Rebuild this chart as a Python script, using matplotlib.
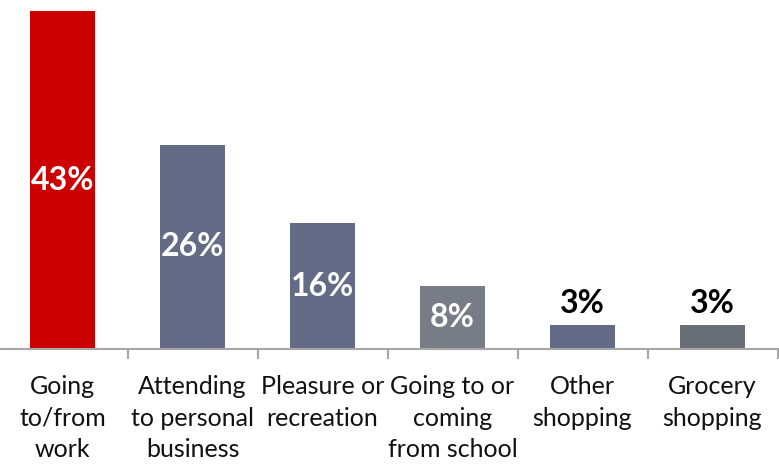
import matplotlib.pyplot as plt

categories = ["Going\nto/from\nwork", "Attending\nto personal\nbusiness", "Pleasure or\nrecreation",
              "Going to or\ncoming\nfrom school", "Other\nshopping", "Grocery\nshopping"]
shares = [43, 26, 16, 8, 3, 3]
bar_colors = ["#CC0000", "#636B86", "#636B86", "#777C87", "#636B86", "#696D75"]

plt.rcParams['font.family'] = ['Lato', 'DejaVu Sans']

fig = plt.figure(figsize=(7.79, 4.69), dpi=100)
ax = fig.add_axes([-2.5 / 779, 120 / 469, 780 / 779, 349 / 469])

x = range(len(shares))
bars = ax.bar(x, shares, width=0.5, color=bar_colors)

ax.set_xlim(-0.5, 5.5)
ax.set_ylim(0, 44.4)

# values: white inside the taller bars, black above the short ones
for i, v in enumerate(shares):
    if v >= 5:
        ax.text(i, v / 2, f"{v}%", ha='center', va='center', color='white',
                fontsize=23, fontweight='bold')
    else:
        ax.text(i, v + 1.0, f"{v}%", ha='center', va='bottom', color='black',
                fontsize=23, fontweight='bold')

for side in ['top', 'right', 'left']:
    ax.spines[side].set_visible(False)
ax.spines['bottom'].set_color('#A6A6A6')
ax.spines['bottom'].set_linewidth(1.5)
ax.set_yticks([])

ax.set_xticks(list(x))
ax.set_xticklabels(categories, fontsize=18, color='#111111', linespacing=1.45)
ax.tick_params(axis='x', which='major', length=0, pad=19)
ax.set_xticks([i - 0.5 for i in range(len(shares) + 1)], minor=True)
ax.tick_params(axis='x', which='minor', length=7.5, width=1.5, color='#A6A6A6', direction='out')

fig.savefig("out.png", dpi=100)
